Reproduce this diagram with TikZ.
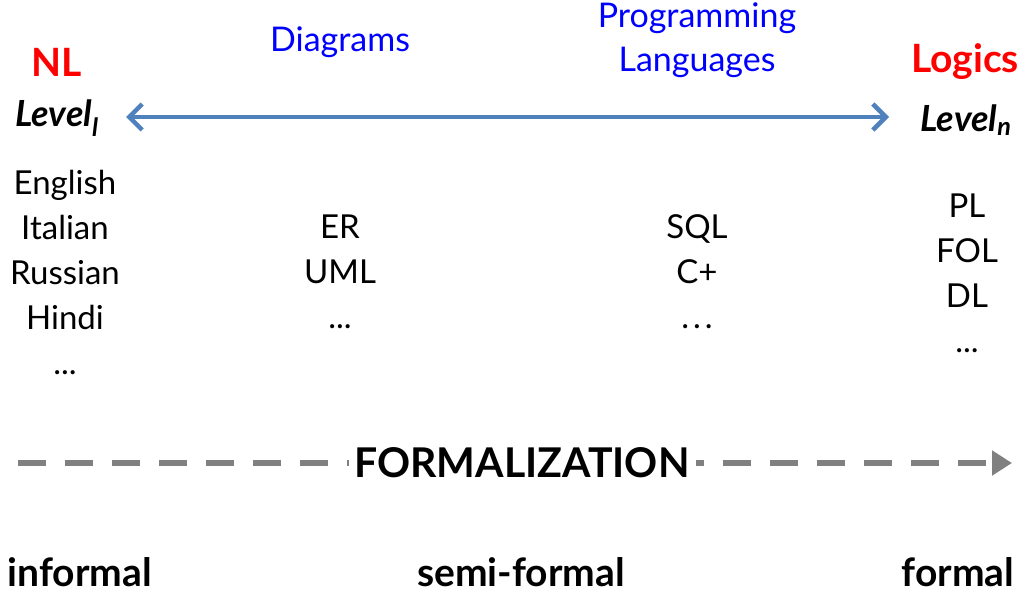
\documentclass[tikz,border=0pt]{standalone}
\usepackage{fontspec}
\setmainfont{Lato}
\usetikzlibrary{arrows.meta}
\definecolor{arrblue}{HTML}{4F81BD}
\definecolor{arrgray}{HTML}{808080}
\begin{document}
\begin{tikzpicture}[x=1pt,y=-1pt,
  txt/.style={inner sep=0pt, anchor=center},
  red/.style={txt, text=red, font=\fontsize{39}{44}\selectfont\bfseries},
  blu/.style={txt, text=blue, align=center, font=\fontsize{34}{44}\selectfont},
  lev/.style={txt, font=\fontsize{36}{40}\selectfont\bfseries\itshape},
  col/.style={txt, align=center, font=\fontsize{33}{45}\selectfont},
  bot/.style={inner sep=0pt, anchor=base, font=\fontsize{39}{44}\selectfont\bfseries}]
\useasboundingbox (0,0) rectangle (1024,594);
\node[red] (nl) at (57,62) {NL};
\node[red] (logics) at (965,62) {Logics};
\node[lev] (lev1) at (57,118) {Level\textsubscript{l}};
\node[lev] (levn) at (966,120) {Level\textsubscript{n}};
\node[blu] (diag) at (340,42) {Diagrams};
\node[blu] (prog) at (697,40) {Programming\\Languages};
\coordinate (al) at (126,117);
\coordinate (ar) at (889,117);
\draw[arrblue, line width=4.5pt, {Straight Barb[length=13pt,width=26pt]}-{Straight Barb[length=13pt,width=26pt]}] (al) -- (ar);
\node[col] (nlc) at (65,272) {English\\Italian\\Russian\\Hindi\\...};
\node[col] (dgc) at (340,272) {ER\\UML\\...};
\node[col] (plc) at (697,272) {SQL\\C+\\.\hspace{4pt}.\hspace{4pt}.};
\node[col] (lgc) at (967,273) {PL\\FOL\\DL\\...};
\coordinate (fl) at (18,463);
\coordinate (fr) at (1012,463);
\draw[arrgray, line width=6pt, dash pattern=on 28pt off 19pt, -{Triangle[length=20pt,width=24pt]}] (fl) -- (fr);
\node[txt, fill=white, inner xsep=6pt, inner ysep=4pt, font=\fontsize{41}{44}\selectfont\bfseries] (form) at (522,463) {FORMALIZATION};
\node[bot] (inf) at (80,586) {informal};
\node[bot] (semi) at (521,586) {semi-formal};
\node[bot] (formal) at (958,586) {formal};
\end{tikzpicture}
\end{document}
